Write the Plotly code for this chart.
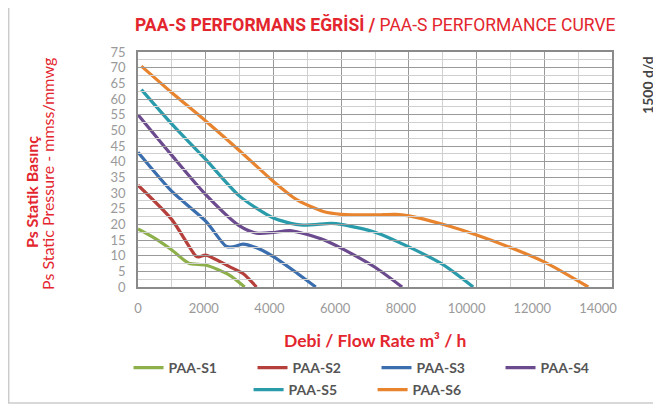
import plotly.graph_objects as go

# ---- data ----
s1_x = [0, 500, 1000, 1500, 2000, 2700, 3150]
s1_y = [18.5, 15.5, 11.8, 7.6, 7.0, 3.8, 0]
s2_x = [0, 1000, 1700, 1800, 2000, 2700, 3100, 3500]
s2_y = [32.5, 21.5, 10.0, 9.6, 10.2, 6.5, 4.3, 0]
s3_x = [0, 1000, 2000, 2600, 2800, 3100, 3500, 4000, 4700, 5250]
s3_y = [43.0, 30.5, 21.0, 13.0, 12.8, 13.7, 12.5, 9.7, 4.4, 0]
s4_x = [0, 1000, 2000, 3000, 3500, 4000, 4500, 5500, 6000, 7000, 7800]
s4_y = [55.0, 42.0, 29.5, 19.5, 17.2, 17.4, 18.0, 15.0, 12.4, 6.3, 0]
s5_x = [100, 1000, 2000, 3000, 4000, 4800, 5700, 6000, 7000, 8000, 9000, 9900]
s5_y = [63.0, 52.0, 40.7, 29.0, 22.0, 19.8, 20.3, 20.0, 17.5, 12.8, 7.2, 0]
s6_x = [100, 1000, 2000, 3000, 4000, 4700, 5500, 6000, 7000, 7600, 8000, 9000, 10000, 11000, 12000, 13300]
s6_y = [70.5, 62.0, 53.0, 43.5, 33.7, 27.8, 24.0, 23.2, 23.0, 23.2, 22.7, 20.0, 16.6, 12.6, 8.0, 0]

series_names = ["PAA-S1", "PAA-S2", "PAA-S3", "PAA-S4", "PAA-S5", "PAA-S6"]
series_x = [s1_x, s2_x, s3_x, s4_x, s5_x, s6_x]
series_y = [s1_y, s2_y, s3_y, s4_y, s5_y, s6_y]
colors = ["#8db04a", "#b5403b", "#3a6eae", "#6b4a8e", "#2a9bab", "#e8832e"]

x_ticks = [0, 2000, 4000, 6000, 8000, 10000, 12000, 14000]
y_ticks = [0, 5, 10, 15, 20, 25, 30, 35, 40, 45, 50, 55, 60, 65, 70, 75]

RED = "#e3262e"
FONT = "Lato"

fig = go.Figure()
for i, (n, xs, ys, c) in enumerate(zip(series_names, series_x, series_y, colors)):
    fig.add_trace(go.Scatter(
        x=xs, y=ys, name=n, mode="lines",
        line=dict(color=c, width=3.2, shape="spline", smoothing=0.7),
        legend="legend" if i < 4 else "legend2",
        hoverinfo="skip",
    ))

# invisible trace to carry the tick label axis
fig.add_trace(go.Scatter(x=[0, 14000], y=[0, 0], xaxis="x2", yaxis="y",
                         mode="markers", marker=dict(opacity=0),
                         showlegend=False, hoverinfo="skip"))

legend_font = dict(family=FONT, size=14, color="#555555", weight="bold")

fig.update_layout(
    width=653, height=400,
    margin=dict(l=130, r=49, t=44, b=121, autoexpand=False),
    paper_bgcolor="white",
    plot_bgcolor="rgba(0,0,0,0)",
    font=dict(family=FONT, color="#999999", size=13),
    xaxis=dict(
        range=[0, 14000], domain=[0, 1],
        tickvals=x_ticks, showticklabels=False,
        showgrid=True, gridcolor="#9a9a9a", gridwidth=1.2,
        minor=dict(dtick=1000, tick0=0, showgrid=True, gridcolor="#cfcfcf", gridwidth=1),
        showline=True, linecolor="#8a8a8a", linewidth=1.5, mirror=True,
        zeroline=False, ticks="",
    ),
    xaxis2=dict(
        range=[0, 14000], domain=[0, 0.9705], anchor="y",
        tickvals=x_ticks, ticktext=[str(v) for v in x_ticks],
        showgrid=False, zeroline=False, showline=False, ticks="",
        tickfont=dict(family=FONT, size=13, color="#9a9a9a"),
        ticklabelstandoff=12,
    ),
    yaxis=dict(
        range=[0, 75], tickvals=y_ticks,
        showgrid=True, gridcolor="#9a9a9a", gridwidth=1.2,
        minor=dict(dtick=2.5, tick0=0, showgrid=True, gridcolor="#cfcfcf", gridwidth=1),
        showline=True, linecolor="#8a8a8a", linewidth=1.5, mirror=True,
        zeroline=False, ticks="",
        tickfont=dict(family=FONT, size=13, color="#9a9a9a"),
        ticklabelstandoff=8,
    ),
    legend=dict(
        orientation="h", x=-0.02, y=-0.345, xanchor="left", yanchor="middle",
        entrywidth=79, entrywidthmode="pixels", itemwidth=30,
        font=legend_font, bgcolor="rgba(0,0,0,0)",
    ),
    legend2=dict(
        orientation="h", x=0.2333, y=-0.438, xanchor="left", yanchor="middle",
        entrywidth=79, entrywidthmode="pixels", itemwidth=30,
        font=legend_font, bgcolor="rgba(0,0,0,0)",
    ),
    showlegend=True,
)

# title
fig.add_annotation(
    text="<b>PAA-S PERFORMANS EĞRİSİ / </b>PAA-S PERFORMANCE CURVE",
    xref="paper", yref="paper", x=0.5, y=1.0, yshift=28,
    xanchor="center", yanchor="middle", showarrow=False,
    font=dict(family="Roboto", size=17.5, color=RED),
)
# x axis title
fig.add_annotation(
    text="<b>Debi / Flow Rate m³ / h</b>",
    xref="paper", yref="paper", x=0.5, y=0, yshift=-53,
    xanchor="center", yanchor="middle", showarrow=False,
    font=dict(family=FONT, size=17.5, color=RED),
)
# y axis titles
fig.add_annotation(
    text="<b>Ps Statik Basınç</b>",
    xref="paper", yref="paper", x=0, xshift=-107, y=0.404,
    xanchor="center", yanchor="middle", textangle=-90, showarrow=False,
    font=dict(family=FONT, size=16, color=RED),
)
fig.add_annotation(
    text="Ps Static Pressure - mmss/mmwg",
    xref="paper", yref="paper", x=0, xshift=-90, y=0.481,
    xanchor="center", yanchor="middle", textangle=-90, showarrow=False,
    font=dict(family=FONT, size=16, color=RED),
)
# right label
fig.add_annotation(
    text="<b>1500 d/d</b>",
    xref="paper", yref="paper", x=1, xshift=36, y=0.86,
    xanchor="center", yanchor="middle", textangle=-90, showarrow=False,
    font=dict(family=FONT, size=14, color="#444444"),
)
# outer frame (left and bottom edges visible)
fig.add_shape(type="rect", xref="paper", yref="paper",
              x0=-129.3 / 474, x1=530 / 474, y0=-116 / 235, y1=289 / 235,
              line=dict(color="#cccccc", width=1.5), layer="below")

fig.write_html("out.html")
